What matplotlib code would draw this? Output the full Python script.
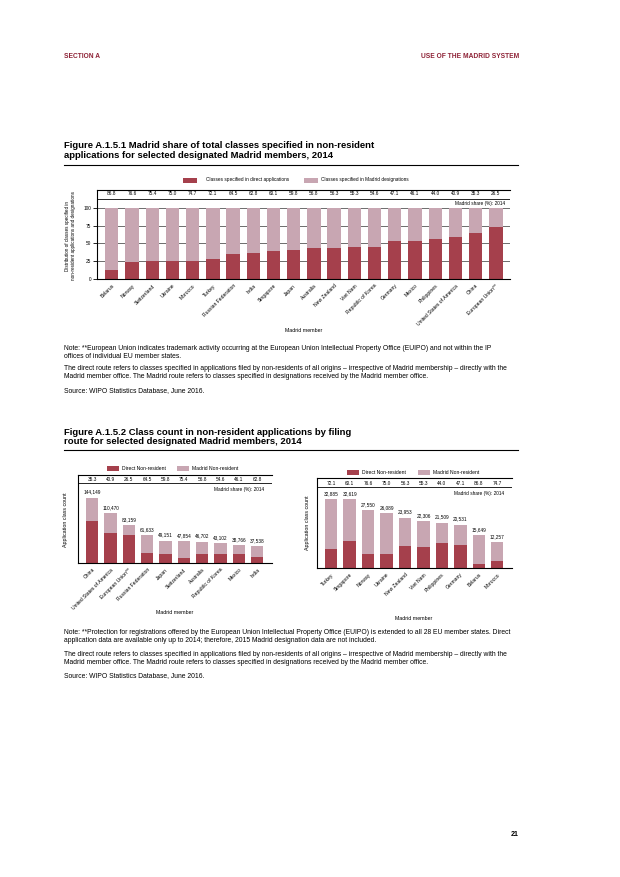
import matplotlib
matplotlib.use("Agg")
import matplotlib.pyplot as plt
from matplotlib.patches import Rectangle

plt.rcParams['font.family'] = ['Liberation Sans', 'DejaVu Sans']

W, H = 620, 877
RED = '#a5404c'
PINK = '#c8a6b2'
HEAD = '#8e2236'

# ---------------- data ----------------
c1_members = ["Belarus", "Norway", "Switzerland", "Ukraine", "Morocco", "Turkey",
              "Russian Federation", "India", "Singapore", "Japan", "Australia",
              "New Zealand", "Viet Nam", "Republic of Korea", "Germany", "Mexico",
              "Philippines", "United States of America", "China", "European Union**"]
c1_share = [86.8, 76.6, 75.4, 75.0, 74.7, 72.1, 64.5, 62.8, 60.1, 59.8, 56.8,
            56.3, 55.3, 54.6, 47.1, 46.1, 44.0, 40.9, 35.3, 26.5]

c2a_members = ["China", "United States of America", "European Union**",
               "Russian Federation", "Japan", "Switzerland", "Australia",
               "Republic of Korea", "Mexico", "India"]
c2a_total = [144149, 110470, 83159, 61633, 49151, 47854, 46702, 43102, 38766, 37538]
c2a_share = [35.3, 40.9, 26.5, 64.5, 59.8, 75.4, 56.8, 54.6, 46.1, 62.8]

c2b_members = ["Turkey", "Singapore", "Norway", "Ukraine", "New Zealand",
               "Viet Nam", "Philippines", "Germany", "Belarus", "Morocco"]
c2b_total = [32885, 32619, 27550, 26089, 23953, 22306, 21509, 20531, 15649, 12257]
c2b_share = [72.1, 60.1, 76.6, 75.0, 56.3, 55.3, 44.0, 47.1, 86.8, 74.7]

fig = plt.figure(figsize=(W / 100, H / 100), dpi=100)


def rect(l, t, r, b):
    return [l / W, 1 - b / H, (r - l) / W, (b - t) / H]


def ftext(x, y, s, **kw):
    fig.text(x / W, 1 - y / H, s, **kw)


def frule(x0, x1, y, lw=0.8, color='black'):
    fig.add_artist(plt.Line2D([x0 / W, x1 / W], [1 - y / H, 1 - y / H],
                              color=color, lw=lw, transform=fig.transFigure))


def flegend(x, y, w, h, color):
    fig.add_artist(Rectangle((x / W, 1 - (y + h / 2) / H), w / W, h / H,
                             facecolor=color, edgecolor='none',
                             transform=fig.transFigure))


NOTE_FS = 4.9
TITLE_FS = 6.8
XT_FS = 3.6

# ---------------- header ----------------
ftext(64, 57, "SECTION A", fontsize=4.8, fontweight='bold', color=HEAD, va='center')
ftext(519, 57, "USE OF THE MADRID SYSTEM", fontsize=4.8, fontweight='bold',
      color=HEAD, va='center', ha='right')

# ---------------- Figure A.1.5.1 ----------------
ftext(64, 146, "Figure A.1.5.1 Madrid share of total classes specified in non-resident",
      fontsize=TITLE_FS, fontweight='bold', va='center')
ftext(64, 156, "applications for selected designated Madrid members, 2014",
      fontsize=TITLE_FS, fontweight='bold', va='center')
frule(64, 518, 165)

flegend(183, 180, 14, 5, RED)
ftext(206, 180, "Classes specified in direct applications", fontsize=3.4, va='center')
flegend(304, 180, 14, 5, PINK)
ftext(321, 180, "Classes specified in Madrid designations", fontsize=3.4, va='center')

ax1 = fig.add_axes(rect(97, 190, 510, 279))
x1 = list(range(len(c1_members)))
direct1 = [100 - s for s in c1_share]
ax1.bar(x1, direct1, width=0.66, color=RED, zorder=2)
ax1.bar(x1, c1_share, bottom=direct1, width=0.66, color=PINK, zorder=2)
ax1.set_xlim(-0.73, 19.7)
ax1.set_ylim(0, 125)
for v in [25, 50, 75, 100]:
    ax1.axhline(v, color='#555555', lw=0.6, zorder=1)
ax1.axhline(112.7, color='black', lw=0.6)
for xi, s in zip(x1, c1_share):
    ax1.text(xi, 119.5, f"{s:.1f}", ha='center', va='center', fontsize=3.4)
ax1.text(0.988, 106.7, "Madrid share (%): 2014", transform=ax1.get_yaxis_transform(),
         ha='right', va='center', fontsize=3.4)
ax1.set_yticks([0, 25, 50, 75, 100])
ax1.set_yticklabels(["0", "25", "50", "75", "100"], fontsize=3.4)
ax1.tick_params(axis='y', length=3, width=0.6, pad=1)
ax1.set_xticks(x1)
ax1.set_xticklabels(c1_members, rotation=45, ha='right', rotation_mode='anchor',
                    fontsize=XT_FS)
ax1.tick_params(axis='x', length=0, pad=3)
ax1.spines['right'].set_visible(False)
for sp in ['left', 'top', 'bottom']:
    ax1.spines[sp].set_linewidth(0.8)
ftext(67, 236, "Distribution of classes specified in", fontsize=3.3, rotation=90,
      ha='center', va='center')
ftext(73.5, 236, "non-resident applications and designations", fontsize=3.3,
      rotation=90, ha='center', va='center')
ftext(304, 331, "Madrid member", fontsize=3.8, ha='center', va='center')

notes1 = [
    (348, "Note: **European Union indicates trademark activity occurring at the European Union Intellectual Property Office (EUIPO) and not within the IP"),
    (356, "offices of individual EU member states."),
    (369, "The direct route refers to classes specified in applications filed by non-residents of all origins \u2013 irrespective of Madrid membership \u2013 directly with the"),
    (377, "Madrid member office. The Madrid route refers to classes specified in designations received by the Madrid member office."),
    (391, "Source: WIPO Statistics Database, June 2016."),
]
for y, s in notes1:
    ftext(64, y, s, fontsize=NOTE_FS, va='center')

# ---------------- Figure A.1.5.2 ----------------
ftext(64, 432, "Figure A.1.5.2 Class count in non-resident applications by filing",
      fontsize=TITLE_FS, fontweight='bold', va='center')
ftext(64, 442, "route for selected designated Madrid members, 2014",
      fontsize=TITLE_FS, fontweight='bold', va='center')
frule(64, 518, 450)


def count_chart(rect_px, members, total, share, ylim_top, share_y, line_y, ms_y,
                leg, ylab_x, ylab_y, xlab_xy):
    ax = fig.add_axes(rect(*rect_px))
    xs = list(range(len(members)))
    direct = [t * (100 - s) / 100 for t, s in zip(total, share)]
    madrid = [t * s / 100 for t, s in zip(total, share)]
    ax.bar(xs, direct, width=0.67, color=RED)
    ax.bar(xs, madrid, bottom=direct, width=0.67, color=PINK)
    ax.set_xlim(-0.77, 9.8)
    ax.set_ylim(0, ylim_top)
    ax.axhline(line_y, color='black', lw=0.6)
    for xi, s, t in zip(xs, share, total):
        ax.text(xi, share_y, f"{s:.1f}", ha='center', va='center', fontsize=3.4)
        ax.annotate(f"{t:,}", (xi, t), xytext=(0, 2.2), textcoords='offset points',
                    ha='center', va='bottom', fontsize=3.4)
    ax.text(0.958, ms_y, "Madrid share (%): 2014", transform=ax.get_yaxis_transform(),
            ha='right', va='center', fontsize=3.4)
    ax.set_yticks([])
    ax.set_xticks(xs)
    ax.set_xticklabels(members, rotation=45, ha='right', rotation_mode='anchor',
                       fontsize=XT_FS)
    ax.tick_params(axis='x', length=0, pad=3)
    ax.spines['right'].set_visible(False)
    for sp in ['left', 'top', 'bottom']:
        ax.spines[sp].set_linewidth(0.8)
    (rx, ry, px) = leg
    flegend(rx, ry, 12, 5, RED)
    ftext(rx + 15, ry, "Direct Non-resident", fontsize=3.6, va='center')
    flegend(px, ry, 12, 5, PINK)
    ftext(px + 15, ry, "Madrid Non-resident", fontsize=3.6, va='center')
    ftext(ylab_x, ylab_y, "Application class count", fontsize=3.8, rotation=90,
          ha='center', va='center')
    ftext(xlab_xy[0], xlab_xy[1], "Madrid member", fontsize=3.8, ha='center',
          va='center')
    return ax


count_chart((78, 475, 272, 563), c2a_members, c2a_total, c2a_share,
            194000, 183000, 175800, 162600, (107, 468, 177), 66, 520, (175, 613))
count_chart((317, 478, 512, 568), c2b_members, c2b_total, c2b_share,
            42800, 40060, 38300, 35280, (347, 472, 418), 307, 523, (414, 618))

notes2 = [
    (632, "Note: **Protection for registrations offered by the European Union Intellectual Property Office (EUIPO) is extended to all 28 EU member states. Direct"),
    (640, "application data are available only up to 2014; therefore, 2015 Madrid designation data are not included."),
    (654, "The direct route refers to classes specified in applications filed by non-residents of all origins \u2013 irrespective of Madrid membership \u2013 directly with the"),
    (662, "Madrid member office. The Madrid route refers to classes specified in designations received by the Madrid member office."),
    (676, "Source: WIPO Statistics Database, June 2016."),
]
for y, s in notes2:
    ftext(64, y, s, fontsize=NOTE_FS, va='center')

ftext(519, 835, "21", fontsize=5, fontweight='bold', ha='right', va='center')

fig.savefig("out.png", dpi=100, facecolor='white')
